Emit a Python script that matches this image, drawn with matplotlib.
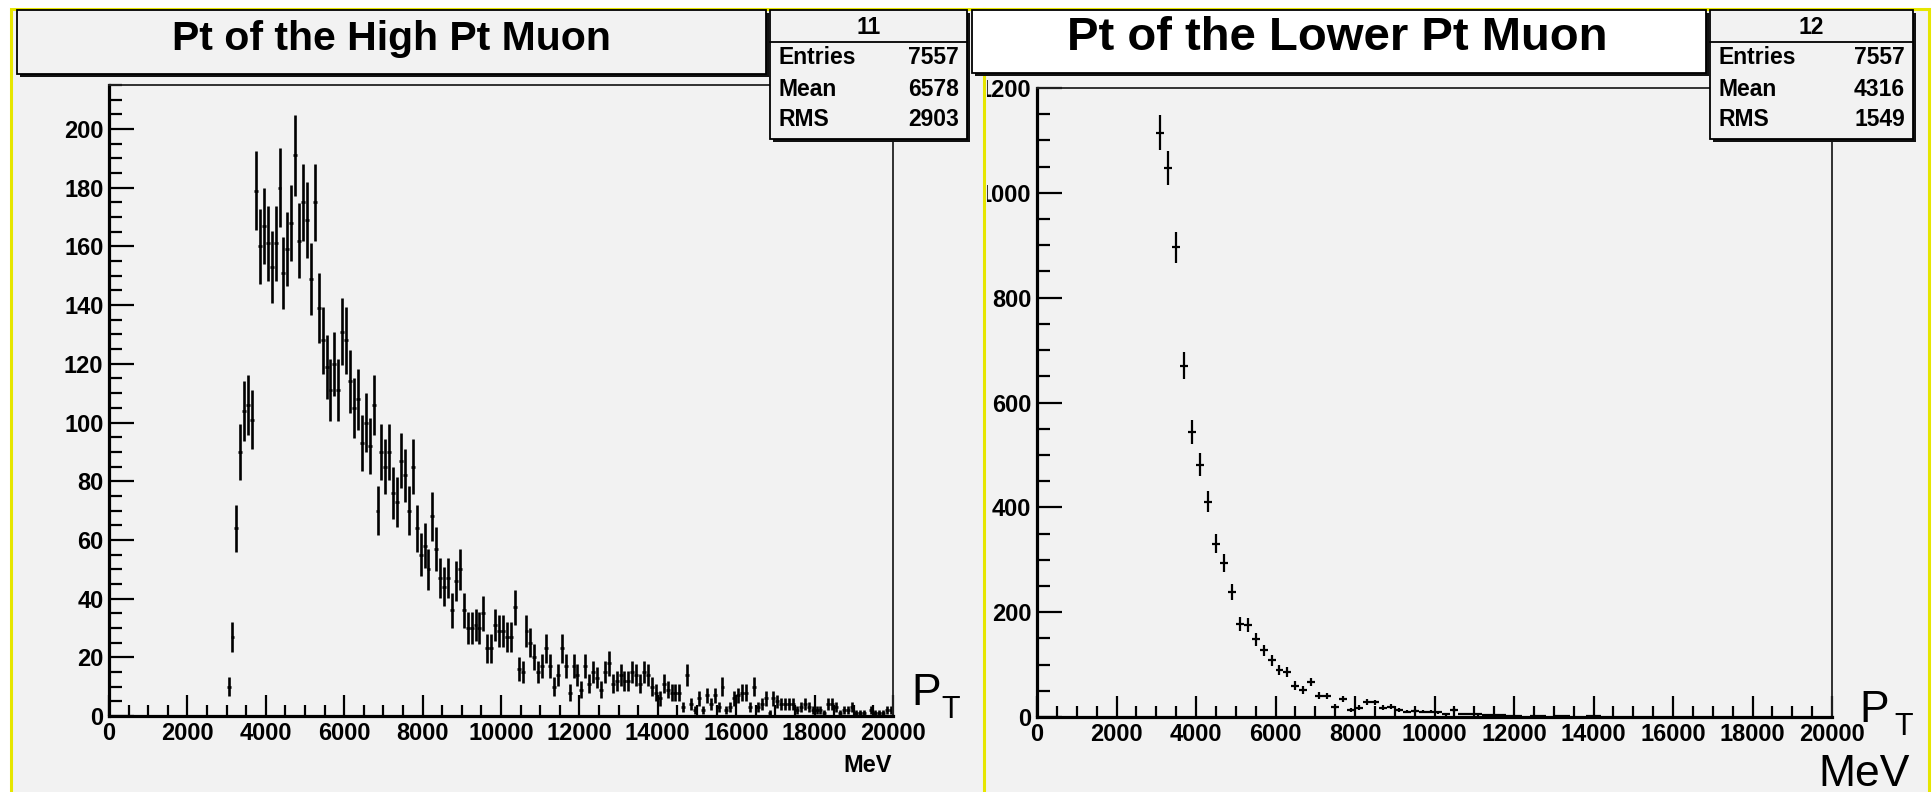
import numpy as np
import matplotlib
matplotlib.use('Agg')
import matplotlib.pyplot as plt
from matplotlib.patches import Rectangle
from matplotlib.ticker import MultipleLocator

# histogram contents
# high pt muon: 100 MeV bins starting at 3000 MeV
hi_start, hi_width = 3000, 100
hi_counts = [10, 27, 64, 90, 104, 106, 101, 179, 160, 167,
             161, 153, 161, 180, 151, 159, 168, 191, 162, 175,
             169, 149, 175, 139, 128, 119, 111, 120, 111, 131,
             128, 114, 105, 108, 93, 100, 92, 106, 70, 90,
             85, 90, 76, 73, 87, 82, 70, 85, 64, 55,
             58, 50, 68, 57, 47, 44, 47, 36, 46, 50,
             36, 30, 30, 31, 30, 35, 23, 23, 31, 29,
             29, 27, 27, 37, 16, 15, 29, 25, 20, 15,
             17, 23, 17, 10, 14, 23, 17, 8, 17, 14,
             9, 17, 11, 15, 13, 9, 15, 18, 11, 12,
             14, 12, 12, 15, 14, 11, 15, 14, 10, 8,
             6, 11, 9, 8, 8, 8, 3, 14, 4, 2,
             6, 2, 7, 4, 7, 3, 10, 2, 3, 6,
             7, 8, 8, 3, 10, 3, 4, 6, 1, 6,
             5, 4, 4, 4, 4, 2, 3, 4, 3, 2,
             2, 2, 1, 4, 4, 3, 1, 2, 2, 3,
             1, 1, 1, 0, 2, 1, 1, 1, 2, 2]

# lower pt muon: 200 MeV bins starting at 3000 MeV
lo_start, lo_width = 3000, 200
lo_counts = [1115, 1047, 896, 670, 544, 481, 411, 331, 293, 239,
             178, 175, 148, 127, 108, 89, 86, 60, 52, 67,
             41, 40, 20, 35, 14, 18, 29, 28, 18, 20,
             13, 10, 11, 10, 10, 9, 5, 14, 6, 6,
             5, 4, 3, 3, 1, 1, 0, 2, 1, 0,
             2, 1, 0, 0, 1, 1]

titles = ["Pt of the High Pt Muon", "Pt of the Lower Pt Muon"]
stat_ids = ["11", "12"]
stat_names = ["Entries", "Mean", "RMS"]
stat_vals = [["7557", "6578", "2903"], ["7557", "4316", "1549"]]

W, H = 1932, 792
BG = '#f2f2f2'
YEL = '#e6e600'
FONT = 'Liberation Sans'

fig = plt.figure(figsize=(W / 100, H / 100), dpi=100, facecolor='white')


def fx(x):
    return x / W


def fy(y):
    return 1 - y / H


def rect(x0, y0, x1, y1, **kw):
    r = Rectangle((fx(x0), fy(y1)), (x1 - x0) / W, (y1 - y0) / H,
                  transform=fig.transFigure, **kw)
    fig.add_artist(r)
    return r


def box(x0, y0, x1, y1, fc, sh=3):
    # ROOT style pave: dark shadow offset down-right
    rect(x0 + sh, y0 + sh, x1 + sh, y1 + sh, facecolor='#111111', edgecolor='none', zorder=5)
    rect(x0, y0, x1, y1, facecolor=fc, edgecolor='black', linewidth=1.3, zorder=6)


def txt(x, y, s, **kw):
    kw.setdefault('family', FONT)
    kw.setdefault('zorder', 7)
    fig.text(fx(x), fy(y), s, **kw)


# pads
rect(11, 9, 984, 820, facecolor=BG, edgecolor=YEL, linewidth=2.2, zorder=-2)
rect(984, 9, 1929, 820, facecolor=BG, edgecolor=YEL, linewidth=2.2, zorder=-2)


def style_axes(ax, ymax, ymajor, yminor):
    ax.set_facecolor(BG)
    ax.set_xlim(0, 20000)
    ax.set_ylim(0, ymax)
    for s in ['left', 'bottom']:
        ax.spines[s].set_linewidth(2.3)
    for s in ['top', 'right']:
        ax.spines[s].set_linewidth(1.3)
        ax.spines[s].set_color('#222222')
    ax.xaxis.set_major_locator(MultipleLocator(2000))
    ax.xaxis.set_minor_locator(MultipleLocator(500))
    ax.yaxis.set_major_locator(MultipleLocator(ymajor))
    ax.yaxis.set_minor_locator(MultipleLocator(yminor))
    ax.tick_params(which='both', direction='in', top=False, right=False, width=1.6)
    ax.tick_params(axis='x', which='major', length=15, pad=4)
    ax.tick_params(axis='x', which='minor', length=8)
    ax.tick_params(axis='y', which='major', length=18, pad=4)
    ax.tick_params(axis='y', which='minor', length=9.5)
    for lab in ax.get_xticklabels() + ax.get_yticklabels():
        lab.set_fontfamily(FONT)
        lab.set_fontweight('bold')
        lab.set_fontsize(17)


# left histogram
ax1 = fig.add_axes([fx(109), fy(716), (893 - 109) / W, (716 - 85) / H])
style_axes(ax1, 215, 20, 5)
hc = np.array(hi_counts, dtype=float)
hx = hi_start + hi_width * (np.arange(len(hc)) + 0.5)
m = hc > 0
ax1.errorbar(hx[m], hc[m], xerr=hi_width / 2, yerr=np.sqrt(hc[m]), fmt='none',
             ecolor='black', elinewidth=1.9, capsize=0)

# right histogram
ax2 = fig.add_axes([fx(1037), fy(717), (1832 - 1037) / W, (717 - 88) / H])
style_axes(ax2, 1200, 200, 50)
lc = np.array(lo_counts, dtype=float)
lx = lo_start + lo_width * (np.arange(len(lc)) + 0.5)
m = lc > 0
ax2.errorbar(lx[m], lc[m], xerr=lo_width / 2, yerr=np.sqrt(lc[m]), fmt='none',
             ecolor='black', elinewidth=1.6, capsize=0)

# the right pad cuts off the leading digit of its y labels
rect(971, 75, 986.5, 800, facecolor=BG, edgecolor='none', zorder=1)
fig.add_artist(plt.Line2D([fx(984), fx(984)], [fy(74), fy(800)], transform=fig.transFigure,
                          color=YEL, linewidth=2.2, zorder=2))

# title boxes
box(17, 10, 766, 74, BG)
txt(391, 39, titles[0], ha='center', va='center', fontsize=29.5, fontweight='bold')
box(972, 10, 1706, 73, 'white')
txt(1337, 38, titles[1], ha='center', va='center', fontsize=34, fontweight='bold')

# stats boxes
for x0, x1, sid, vals in [(770, 967, stat_ids[0], stat_vals[0]),
                          (1710, 1913, stat_ids[1], stat_vals[1])]:
    box(x0, 10, x1, 139, BG)
    fig.add_artist(plt.Line2D([fx(x0), fx(x1)], [fy(42), fy(42)], transform=fig.transFigure,
                              color='black', linewidth=1.3, zorder=7))
    txt((x0 + x1) / 2, 27, sid, ha='center', va='center', fontsize=16.5, fontweight='bold')
    for name, v, yy in zip(stat_names, vals, [58, 89, 120]):
        txt(x0 + 9, yy, name, ha='left', va='center', fontsize=16.5, fontweight='bold')
        txt(x1 - 8, yy, v, ha='right', va='center', fontsize=16.5, fontweight='bold')

# axis titles
txt(892, 772, "MeV", ha='right', va='baseline', fontsize=17, fontweight='bold')
txt(911, 705, "P", ha='left', va='baseline', fontsize=32)
txt(941, 718, "T", ha='left', va='baseline', fontsize=22)
txt(1859, 722, "P", ha='left', va='baseline', fontsize=32)
txt(1894, 735, "T", ha='left', va='baseline', fontsize=22)
txt(1910, 786, "MeV", ha='right', va='baseline', fontsize=32)

fig.savefig('out.png', dpi=100, facecolor='white')
